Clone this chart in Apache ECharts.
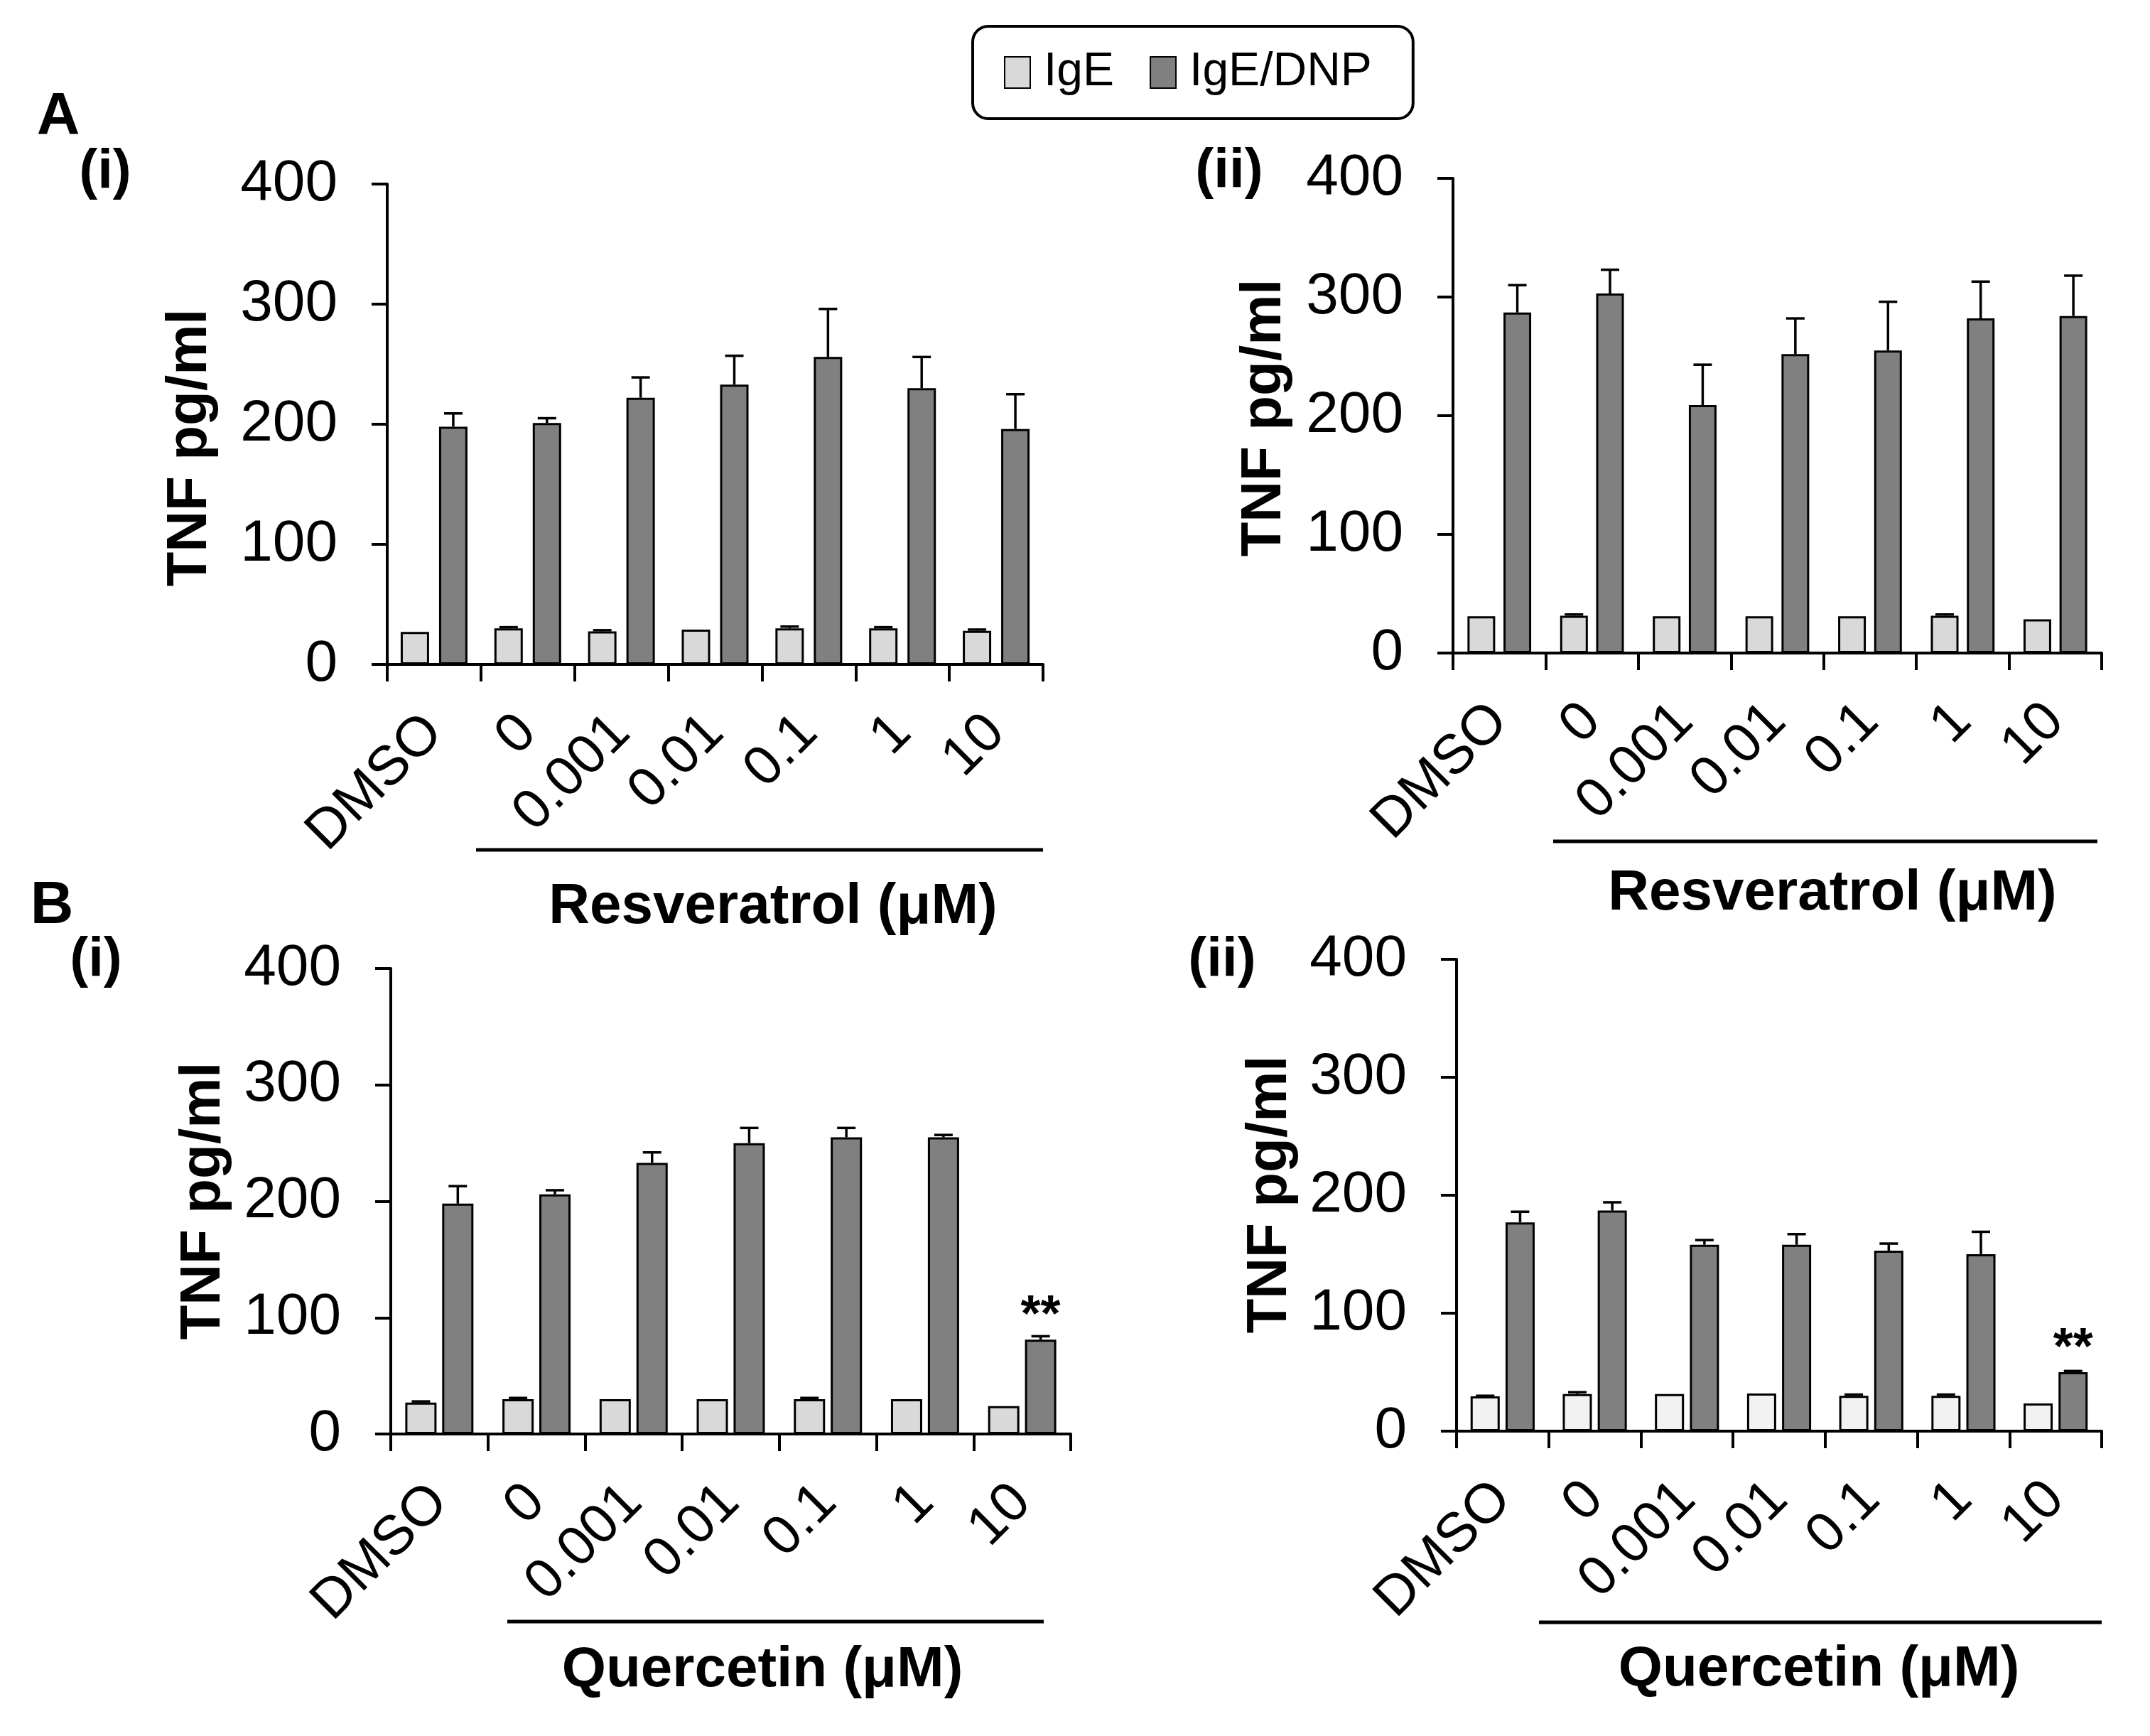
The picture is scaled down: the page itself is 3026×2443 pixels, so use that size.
<!DOCTYPE html>
<html>
<head>
<meta charset="utf-8">
<script src="https://cdn.jsdelivr.net/npm/echarts@6/dist/echarts.min.js"></script>
<style>
html,body{margin:0;padding:0;background:#fff;}
#chart{width:3026px;height:2443px;}
</style>
</head>
<body>
<div id="chart"></div>
<script>
// ---------- data ----------
const categories = ['DMSO', '0', '0.001', '0.01', '0.1', '1', '10'];
const seriesNames = ['IgE', 'IgE/DNP'];
const yMin = 0, yMax = 400, yStep = 100;

// Panel A(i) – Resveratrol
const A1_IgE      = [27, 30, 27.5, 29, 30, 30, 28];
const A1_IgE_err  = [0, 1, 1, 0, 1.5, 1, 1];
const A1_DNP      = [198, 201, 222, 233, 256, 230, 196];
const A1_DNP_err  = [11, 4, 17, 24, 40, 26, 29];
// Panel A(ii) – Resveratrol
const A2_IgE      = [31, 31.5, 31, 31, 31, 31.5, 28.5];
const A2_IgE_err  = [0, 1, 0, 0, 0, 1, 0];
const A2_DNP      = [287, 303, 209, 252, 255, 282, 284];
const A2_DNP_err  = [23, 20, 34, 30, 41, 31, 34];
// Panel B(i) – Quercetin
const B1_IgE      = [27, 30, 30, 30, 30, 30, 24];
const B1_IgE_err  = [1, 1, 0, 0, 1, 0, 0];
const B1_DNP      = [198, 206, 233, 250, 255, 255, 81];
const B1_DNP_err  = [15, 3.5, 9, 13, 8, 2, 3];
// Panel B(ii) – Quercetin
const B2_IgE      = [29.5, 31.5, 31.5, 32, 30, 30, 23.5];
const B2_IgE_err  = [0.5, 1.5, 0, 0, 1, 1, 0];
const B2_DNP      = [177, 187, 158, 158, 153, 150, 50];
const B2_DNP_err  = [9, 7, 4, 9, 6, 19, 1];

const sigMarks = ['', '', '', '', '', '', '**'];

// ---------- styles / layout ----------
const FONT = 'Liberation Sans, Arial, Helvetica, sans-serif';
const panels = [
  {grid:{left:545, top:259, width:923, height:676}, igE:A1_IgE, igEErr:A1_IgE_err, dnp:A1_DNP, dnpErr:A1_DNP_err, barW:40, gap:0.35, igEColor:'#d9d9d9', sig:false},
  {grid:{left:2045, top:251, width:913, height:668}, igE:A2_IgE, igEErr:A2_IgE_err, dnp:A2_DNP, dnpErr:A2_DNP_err, barW:39, gap:0.3, igEColor:'#d9d9d9', sig:false},
  {grid:{left:550, top:1363, width:957, height:655}, igE:B1_IgE, igEErr:B1_IgE_err, dnp:B1_DNP, dnpErr:B1_DNP_err, barW:44, gap:0.18, igEColor:'#d9d9d9', sig:true},
  {grid:{left:2050, top:1350, width:908, height:664}, igE:B2_IgE, igEErr:B2_IgE_err, dnp:B2_DNP, dnpErr:B2_DNP_err, barW:41, gap:0.2, igEColor:'#f2f2f2', sig:true}
];

function errRender(sign, barW, gap) {
  return function (params, api) {
    const i = api.value(0), v = api.value(1), e = api.value(2);
    if (!e) return null;
    const base = api.coord([i, v]);
    const top = api.coord([i, v + e]);
    const x = base[0] + sign * barW * (1 + gap) / 2;
    const st = {stroke:'#000', lineWidth:3.5};
    return {type:'group', children:[
      {type:'line', shape:{x1:x, y1:base[1], x2:x, y2:top[1]}, style:st},
      {type:'line', shape:{x1:x - 13, y1:top[1], x2:x + 13, y2:top[1]}, style:st}
    ]};
  };
}

const grids = [], xAxes = [], yAxes = [], series = [];
panels.forEach((p, k) => {
  grids.push(p.grid);
  xAxes.push({
    type:'category', gridIndex:k, data:categories,
    axisLine:{lineStyle:{color:'#000', width:4}},
    axisTick:{show:true, interval:0, length:24, lineStyle:{color:'#000', width:4}},
    axisLabel:{interval:0, rotate:45, margin:84, fontSize:78, color:'#000', fontFamily:FONT}
  });
  yAxes.push({
    type:'value', gridIndex:k, min:yMin, max:yMax, interval:yStep,
    axisLine:{show:true, lineStyle:{color:'#000', width:4}},
    axisTick:{show:true, length:22, lineStyle:{color:'#000', width:4}},
    splitLine:{show:false},
    axisLabel:{margin:70, fontSize:82, color:'#000', fontFamily:FONT}
  });
  series.push({
    name:seriesNames[0], type:'bar', xAxisIndex:k, yAxisIndex:k,
    data:p.igE, barWidth:p.barW, barGap:(p.gap * 100) + '%',
    itemStyle:{color:p.igEColor, borderColor:'#000', borderWidth:3}
  });
  series.push({
    name:seriesNames[1], type:'bar', xAxisIndex:k, yAxisIndex:k,
    data:p.dnp.map((v, i) => (p.sig && sigMarks[i]) ? {
      value:v,
      label:{show:true, position:'top', distance:-4, formatter:sigMarks[i], fontSize:72, fontWeight:'bold', color:'#000', fontFamily:FONT}
    } : v),
    barWidth:p.barW, barGap:(p.gap * 100) + '%',
    itemStyle:{color:'#808080', borderColor:'#000', borderWidth:3}
  });
  series.push({
    type:'custom', xAxisIndex:k, yAxisIndex:k, z:5,
    renderItem:errRender(-1, p.barW, p.gap),
    encode:{x:0, y:1},
    data:p.igE.map((v, i) => [i, v, p.igEErr[i]])
  });
  series.push({
    type:'custom', xAxisIndex:k, yAxisIndex:k, z:5,
    renderItem:errRender(1, p.barW, p.gap),
    encode:{x:0, y:1},
    data:p.dnp.map((v, i) => [i, v, p.dnpErr[i]])
  });
});

function txt(s, x, y, size, bold, rot) {
  return {type:'text', x:x, y:y, rotation:rot || 0, z:10,
    style:{text:s, fontSize:size, fontWeight:bold ? 'bold' : 'normal', fontFamily:FONT, fill:'#000', align:'center', verticalAlign:'middle'}};
}
function hline(x1, x2, y) {
  return {type:'line', z:10, shape:{x1:x1, y1:y, x2:x2, y2:y}, style:{stroke:'#000', lineWidth:5}};
}
const yName = 'TNF pg/ml';
const graphic = [
  txt('A', 82, 166, 84, true),
  txt('(i)', 148, 243, 78, true),
  txt('(ii)', 1730, 242, 78, true),
  txt('B', 73, 1276, 84, true),
  txt('(i)', 135, 1352, 78, true),
  txt('(ii)', 1720, 1352, 78, true),
  txt(yName, 268, 630, 80, true, Math.PI / 2),
  txt(yName, 1780, 588, 80, true, Math.PI / 2),
  txt(yName, 287, 1690, 80, true, Math.PI / 2),
  txt(yName, 1788, 1681, 80, true, Math.PI / 2),
  hline(670, 1468, 1196),
  hline(2186, 2952, 1184),
  hline(714, 1469, 2282),
  hline(2166, 2958, 2283),
  txt('Resveratrol (μM)', 1088, 1277, 80, true),
  txt('Resveratrol (μM)', 2579, 1258, 80, true),
  txt('Quercetin (μM)', 1073, 2351, 80, true),
  txt('Quercetin (μM)', 2560, 2350, 80, true)
];

const chart = echarts.init(document.getElementById('chart'), null, {renderer:'canvas'});
chart.setOption({
  backgroundColor:'#fff',
  animation:false,
  legend:{
    data:seriesNames, left:1369, top:37, orient:'horizontal', icon:'rect',
    itemWidth:36, itemHeight:44, itemGap:50, selectedMode:false,
    padding:[32, 58, 32, 44],
    borderColor:'#000', borderWidth:4, borderRadius:22,
    textStyle:{fontSize:66, color:'#000', fontFamily:FONT, padding:[0, 0, 0, 14]}
  },
  grid:grids, xAxis:xAxes, yAxis:yAxes, series:series, graphic:graphic
});
</script>
</body>
</html>
